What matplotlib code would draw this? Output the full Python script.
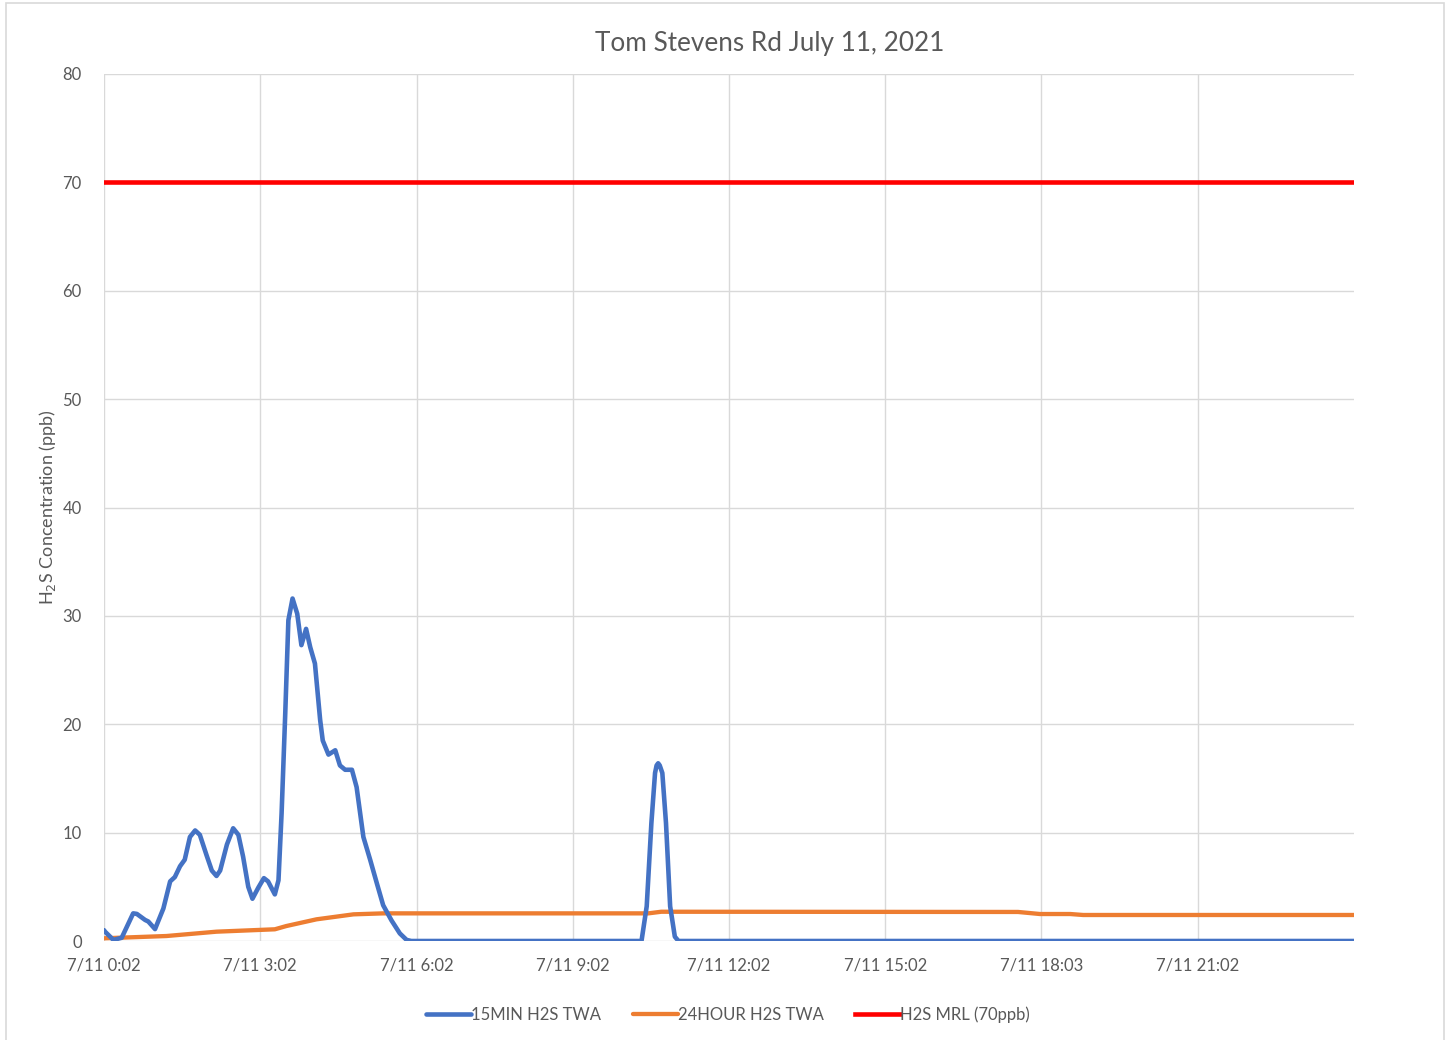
import matplotlib
matplotlib.use("Agg")
import matplotlib.pyplot as plt
from matplotlib.patches import Rectangle

# ---- data (hours since 7/11 0:02) ----
blue_hours = [0.0, 0.02, 0.18, 0.34, 0.56, 0.63, 0.79, 0.85, 0.98, 1.14, 1.27, 1.36, 1.46, 1.55,
              1.65, 1.75, 1.84, 1.97, 2.07, 2.16, 2.23, 2.36, 2.48, 2.58, 2.67, 2.77, 2.85,
              2.96, 3.07, 3.15, 3.28, 3.35, 3.41, 3.48, 3.54, 3.62, 3.71, 3.79, 3.88, 3.96,
              4.05, 4.15, 4.20, 4.31, 4.44, 4.53, 4.63, 4.76, 4.85, 4.98, 5.11, 5.24, 5.36,
              5.52, 5.68, 5.81, 5.90, 10.32, 10.42, 10.51, 10.58, 10.61, 10.64, 10.67, 10.72,
              10.79, 10.87, 10.96, 11.03, 24.0]
blue_vals = [1.0, 0.86, 0.1, 0.3, 2.55, 2.5, 1.94, 1.8, 1.1, 3.0, 5.5, 5.9, 6.9, 7.5,
             9.6, 10.2, 9.8, 7.9, 6.5, 6.0, 6.5, 8.9, 10.4, 9.8, 7.8, 5.0, 3.9,
             4.9, 5.8, 5.5, 4.3, 5.6, 11.8, 21.0, 29.6, 31.6, 30.2, 27.3, 28.8, 27.1,
             25.6, 20.4, 18.5, 17.2, 17.6, 16.2, 15.8, 15.8, 14.2, 9.6, 7.5, 5.3, 3.3,
             1.9, 0.7, 0.1, 0.0, 0.0, 3.2, 10.9, 15.5, 16.2, 16.4, 16.2, 15.5,
             10.9, 3.2, 0.4, 0.0, 0.0]

orange_hours = [0.0, 1.2, 2.16, 3.28, 3.5, 4.08, 4.79, 5.36, 10.45, 10.7, 17.55, 17.97,
                18.55, 18.8, 24.0]
orange_vals = [0.25, 0.46, 0.86, 1.08, 1.38, 2.0, 2.46, 2.55, 2.55, 2.7, 2.68, 2.49,
               2.49, 2.4, 2.4]

mrl_hours = [0.0, 24.0]
mrl_vals = [70, 70]

tick_hours = [0, 3, 6, 9, 12, 15, 18, 21]
tick_labels = ["7/11 0:02", "7/11 3:02", "7/11 6:02", "7/11 9:02",
               "7/11 12:02", "7/11 15:02", "7/11 18:03", "7/11 21:02"]
y_ticks = [0, 10, 20, 30, 40, 50, 60, 70, 80]

plt.rcParams['font.family'] = ['Lato', 'DejaVu Sans']
txt = '#595959'
grid = '#d9d9d9'

fig = plt.figure(figsize=(14.49, 10.40), dpi=100)
fig.patches.append(Rectangle((6.5/1449, -0.01), (1444-6.5)/1449, 1.01 - 2.5/1040,
                             transform=fig.transFigure, fill=False,
                             edgecolor='#d9d9d9', linewidth=1.2))
ax = fig.add_axes([104/1449, 1-941/1040, (1354-104)/1449, (941-74)/1040])

ax.plot(blue_hours, blue_vals, color='#4472C4', lw=3.3, solid_joinstyle='round',
        solid_capstyle='round', label='15MIN H2S TWA', zorder=3)
ax.plot(orange_hours, orange_vals, color='#ED7D31', lw=3.1, solid_capstyle='round',
        solid_joinstyle='round', label='24HOUR H2S TWA', zorder=2)
ax.plot(mrl_hours, mrl_vals, color='#FF0000', lw=3.3, label='H2S MRL (70ppb)', zorder=2)

ax.set_xlim(0, 24)
ax.set_ylim(0, 80)
ax.set_xticks(tick_hours)
ax.set_xticklabels(tick_labels)
ax.set_yticks(y_ticks)
ax.tick_params(length=0, labelsize=12, colors=txt)
ax.tick_params(axis='x', pad=12)
ax.tick_params(axis='y', pad=16)
ax.grid(True, color=grid, lw=1)
ax.set_axisbelow(True)
for s in ax.spines.values():
    s.set_visible(False)

fig.text(770/1449, 1-43/1040, 'Tom Stevens Rd July 11, 2021', fontsize=18.8, color=txt,
         ha='center', va='center')
ax.set_ylabel('H$_2$S Concentration (ppb)', fontsize=13, color=txt, labelpad=3)

fig.legend(loc='center', bbox_to_anchor=(728/1449, 1-1015/1040), ncol=3, frameon=False,
           fontsize=12, labelcolor=txt, handlelength=2.7, handletextpad=0.0,
           columnspacing=1.9)

fig.savefig('out.png', dpi=100)
